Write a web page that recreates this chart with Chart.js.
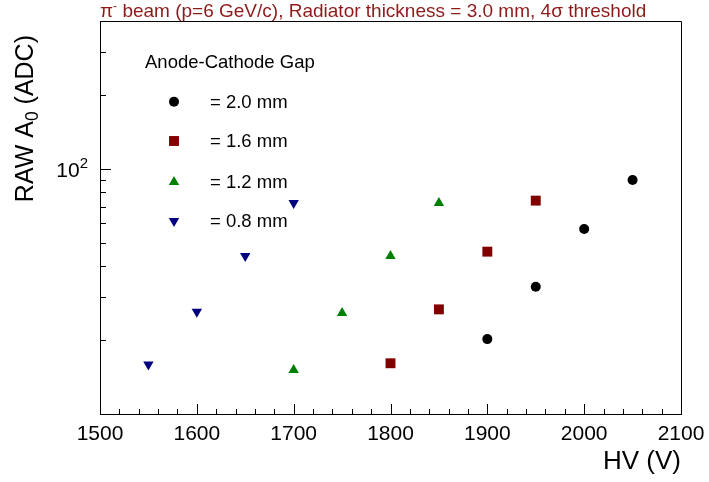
<!DOCTYPE html>
<html>
<head>
<meta charset="utf-8">
<script src="https://cdn.jsdelivr.net/npm/chart.js@4.4.1/dist/chart.umd.min.js"></script>
<style>
html, body { margin: 0; padding: 0; background: #fff; }
#wrap { width: 709px; height: 482px; }
</style>
</head>
<body>
<div id="wrap"><canvas id="rawChart" width="709" height="482"></canvas></div>
<script>
// values (HV in V, raw A0 in ADC counts)
const hvGap20 = [1900, 1950, 2000, 2050];
const adcGap20 = [20.2, 33.0, 56.8, 89.9];
const hvGap16 = [1800, 1850, 1900, 1950];
const adcGap16 = [16.1, 26.7, 45.9, 74.1];
const hvGap12 = [1700, 1750, 1800, 1850];
const adcGap12 = [15.1, 25.8, 44.1, 72.5];
const hvGap08 = [1550, 1600, 1650, 1700];
const adcGap08 = [15.9, 26.1, 44.1, 72.5];

const gapLabels = ['= 2.0 mm', '= 1.6 mm', '= 1.2 mm', '= 0.8 mm'];
const legendTitle = 'Anode-Cathode Gap';

const xTicks = [1500, 1600, 1700, 1800, 1900, 2000, 2100];
const xMinorTicks = [1520, 1540, 1560, 1580, 1620, 1640, 1660, 1680, 1720, 1740, 1760, 1780,
                     1820, 1840, 1860, 1880, 1920, 1940, 1960, 1980, 2020, 2040, 2060, 2080];
const yTicks = [100];
const yMinorTicks = [20, 30, 40, 50, 60, 70, 80, 90, 200, 300];

const FONT = "'Liberation Sans', Arial, Helvetica, sans-serif";

function toPoints(xs, ys) {
    return xs.map((x, i) => ({ x: x, y: ys[i] }));
}

// ROOT style frame: box round the plot, ticks pointing inside, titles
const rootFrame = {
    id: 'rootFrame',
    afterDraw(chart) {
        const ctx = chart.ctx;
        const area = chart.chartArea;
        const xs = chart.scales.x;
        const ys = chart.scales.y;
        ctx.save();
        ctx.strokeStyle = '#000';
        ctx.lineWidth = 1;

        // top and right sides of the frame
        ctx.beginPath();
        ctx.moveTo(area.left + 0.5, area.top + 0.5);
        ctx.lineTo(area.right + 0.5, area.top + 0.5);
        ctx.lineTo(area.right + 0.5, area.bottom + 0.5);
        ctx.stroke();

        // x ticks
        ctx.beginPath();
        xTicks.concat(xMinorTicks).forEach(v => {
            const px = Math.round(xs.getPixelForValue(v)) + 0.5;
            const len = xTicks.includes(v) ? 10 : 5;
            ctx.moveTo(px, area.bottom);
            ctx.lineTo(px, area.bottom - len);
        });
        // y ticks
        yTicks.concat(yMinorTicks).forEach(v => {
            const py = Math.round(ys.getPixelForValue(v)) + 0.5;
            const len = yTicks.includes(v) ? 11 : 6;
            ctx.moveTo(area.left, py);
            ctx.lineTo(area.left + len, py);
        });
        ctx.stroke();

        ctx.fillStyle = '#000';
        ctx.textBaseline = 'alphabetic';

        // y tick label 10^2 with a real superscript
        yTicks.forEach(v => {
            const py = ys.getPixelForValue(v);
            const exp = String(Math.round(Math.log10(v)));
            ctx.font = '15px ' + FONT;
            const we = ctx.measureText(exp).width;
            ctx.textAlign = 'right';
            ctx.fillText(exp, area.left - 12, py - 1);
            ctx.font = '21px ' + FONT;
            ctx.fillText('10', area.left - 12 - we, py + 8);
        });

        // x axis title
        ctx.font = '26px ' + FONT;
        ctx.textAlign = 'right';
        ctx.fillText('HV (V)', area.right, 469);

        // y axis title, rotated, right aligned at top end
        ctx.save();
        ctx.translate(33, 35);
        ctx.rotate(-Math.PI / 2);
        ctx.textAlign = 'left';
        const big = '25px ' + FONT;
        const small = '17.5px ' + FONT;
        ctx.font = big;
        const w1 = ctx.measureText('RAW A').width;
        const w3 = ctx.measureText(' (ADC)').width;
        ctx.font = small;
        const w2 = ctx.measureText('0').width;
        let x0 = -(w1 + w2 + w3);
        ctx.font = big;
        ctx.fillText('RAW A', x0, 0);
        ctx.font = small;
        ctx.fillText('0', x0 + w1, 5);
        ctx.font = big;
        ctx.fillText(' (ADC)', x0 + w1 + w2, 0);
        ctx.restore();

        // title on top
        ctx.fillStyle = '#8e1a1a';
        ctx.textAlign = 'left';
        ctx.font = '19px ' + FONT;
        let tx = 100;
        ctx.fillText('\u03c0', tx, 17);
        tx += ctx.measureText('\u03c0').width;
        ctx.font = '12px ' + FONT;
        ctx.fillText('-', tx, 10);
        tx += ctx.measureText('-').width;
        ctx.font = '19px ' + FONT;
        ctx.fillText(' beam (p=6 GeV/c), Radiator thickness = 3.0 mm, 4\u03c3 threshold', tx, 17);

        // legend
        ctx.fillStyle = '#000';
        ctx.font = '18.5px ' + FONT;
        ctx.textBaseline = 'middle';
        ctx.fillText(legendTitle, 145, 63);
        const rowY = [101.7, 141, 182, 221];
        chart.data.datasets.forEach((ds, i) => {
            ctx.fillStyle = ds.backgroundColor;
            ctx.strokeStyle = ds.backgroundColor;
            Chart.helpers.drawPoint(ctx, {
                pointStyle: ds.pointStyle,
                radius: ds.pointRadius,
                rotation: ds.pointRotation || 0,
                borderWidth: 0
            }, 174, rowY[i]);
            ctx.fillStyle = '#000';
            ctx.fillText(gapLabels[i], 210, rowY[i] + 1);
        });
        ctx.restore();
    }
};

const ctx = document.getElementById('rawChart').getContext('2d');
new Chart(ctx, {
    type: 'scatter',
    data: {
        datasets: [{
            label: gapLabels[0],
            data: toPoints(hvGap20, adcGap20),
            pointStyle: 'circle',
            pointRadius: 5,
            backgroundColor: '#000000',
            borderWidth: 0
        }, {
            label: gapLabels[1],
            data: toPoints(hvGap16, adcGap16),
            pointStyle: 'rect',
            pointRadius: 7,
            backgroundColor: '#800000',
            borderWidth: 0
        }, {
            label: gapLabels[2],
            data: toPoints(hvGap12, adcGap12),
            pointStyle: 'triangle',
            pointRadius: 6,
            backgroundColor: '#008000',
            borderWidth: 0
        }, {
            label: gapLabels[3],
            data: toPoints(hvGap08, adcGap08),
            pointStyle: 'triangle',
            pointRotation: 180,
            pointRadius: 6,
            backgroundColor: '#000080',
            borderWidth: 0
        }]
    },
    options: {
        responsive: false,
        animation: false,
        devicePixelRatio: 1,
        layout: { padding: { top: 21, right: 28, left: 1, bottom: 0 } },
        plugins: {
            legend: { display: false },
            tooltip: { enabled: false },
            title: { display: false }
        },
        scales: {
            x: {
                type: 'linear',
                min: 1500,
                max: 2100,
                grid: { display: false },
                border: { display: true, color: '#000', width: 1 },
                ticks: {
                    color: '#000',
                    font: { family: FONT, size: 21 },
                    padding: 0,
                    maxRotation: 0,
                    autoSkip: false,
                    callback: v => String(v)
                },
                afterBuildTicks: s => { s.ticks = xTicks.map(v => ({ value: v })); },
                afterFit: s => {
                    s.height = 68;
                    s.paddingLeft = 0;
                    s.paddingRight = 0;
                }
            },
            y: {
                type: 'logarithmic',
                min: 10,
                max: 400,
                grid: { display: false },
                border: { display: true, color: '#000', width: 1 },
                ticks: { display: false },
                afterBuildTicks: s => { s.ticks = yTicks.map(v => ({ value: v })); },
                afterFit: s => {
                    s.width = 99;
                    s.paddingTop = 0;
                    s.paddingBottom = 0;
                }
            }
        }
    },
    plugins: [rootFrame]
});
</script>
</body>
</html>
